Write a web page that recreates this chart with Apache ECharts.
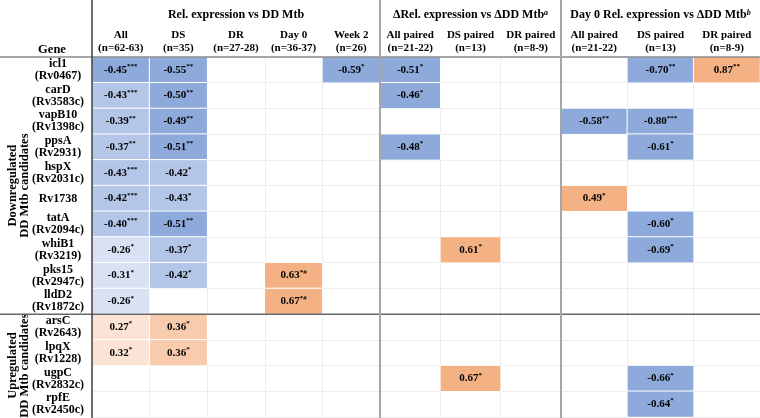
<!DOCTYPE html>
<html><head><meta charset="utf-8">
<script src="https://cdn.jsdelivr.net/npm/echarts@6/dist/echarts.min.js"></script>
<style>html,body{margin:0;padding:0;background:#fff}#c{width:760px;height:418px}</style>
</head><body><div id="c"></div>
<script>
const genes = ['icl1','carD','vapB10','ppsA','hspX','Rv1738','tatA','whiB1','pks15','lldD2','arsC','lpqX','ugpC','rpfE'];
const geneIds = ['Rv0467','Rv3583c','Rv1398c','Rv2931','Rv2031c','','Rv2094c','Rv3219','Rv2947c','Rv1872c','Rv2643','Rv1228','Rv2832c','Rv2450c'];
const groupNames = ['Downregulated\nDD Mtb candidates','Upregulated\nDD Mtb candidates'];
const groupSizes = [10, 4];

const relTitle = 'Rel. expression vs DD Mtb';
const relCols = ['All\n(n=62-63)','DS\n(n=35)','DR\n(n=27-28)','Day 0\n(n=36-37)','Week 2\n(n=26)'];
const relValues = [
  [-0.45,-0.55,null,null,-0.59],
  [-0.43,-0.50,null,null,null],
  [-0.39,-0.49,null,null,null],
  [-0.37,-0.51,null,null,null],
  [-0.43,-0.42,null,null,null],
  [-0.42,-0.43,null,null,null],
  [-0.40,-0.51,null,null,null],
  [-0.26,-0.37,null,null,null],
  [-0.31,-0.42,null,0.63,null],
  [-0.26,null,null,0.67,null],
  [0.27,0.36,null,null,null],
  [0.32,0.36,null,null,null],
  [null,null,null,null,null],
  [null,null,null,null,null]
];
const relSig = [
  ['***','**','','','*'],
  ['***','**','','',''],
  ['**','**','','',''],
  ['**','**','','',''],
  ['***','*','','',''],
  ['***','*','','',''],
  ['***','**','','',''],
  ['*','*','','',''],
  ['*','*','','*#',''],
  ['*','','','*#',''],
  ['*','*','','',''],
  ['*','*','','',''],
  ['','','','',''],
  ['','','','','']
];

const deltaTitle = 'ΔRel. expression vs ΔDD Mtb';
const deltaNote = 'a';
const deltaCols = ['All paired\n(n=21-22)','DS paired\n(n=13)','DR paired\n(n=8-9)'];
const deltaValues = [
  [-0.51,null,null],
  [-0.46,null,null],
  [null,null,null],
  [-0.48,null,null],
  [null,null,null],
  [null,null,null],
  [null,null,null],
  [null,0.61,null],
  [null,null,null],
  [null,null,null],
  [null,null,null],
  [null,null,null],
  [null,0.67,null],
  [null,null,null]
];
const deltaSig = [
  ['*','',''],['*','',''],['','',''],['*','',''],['','',''],['','',''],['','',''],
  ['','*',''],['','',''],['','',''],['','',''],['','',''],['','*',''],['','','']
];

const day0Title = 'Day 0 Rel. expression vs ΔDD Mtb';
const day0Note = 'b';
const day0Cols = ['All paired\n(n=21-22)','DS paired\n(n=13)','DR paired\n(n=8-9)'];
const day0Values = [
  [null,-0.70,0.87],
  [null,null,null],
  [-0.58,-0.80,null],
  [null,-0.61,null],
  [null,null,null],
  [0.49,null,null],
  [null,-0.60,null],
  [null,-0.69,null],
  [null,null,null],
  [null,null,null],
  [null,null,null],
  [null,null,null],
  [null,-0.66,null],
  [null,-0.64,null]
];
const day0Sig = [
  ['','**','**'],['','',''],['**','***',''],['','*',''],['','',''],['*','',''],['','*',''],
  ['','*',''],['','',''],['','',''],['','',''],['','',''],['','*',''],['','*','']
];

const FONT = '"Liberation Serif", "Times New Roman", serif';
const chart = echarts.init(document.getElementById('c'), null, {renderer:'canvas'});

function toData(vals){
  const out = [];
  vals.forEach((row, r) => row.forEach((v, c) => { if (v !== null) out.push([c, r, v]); }));
  return out;
}
const geneLabels = genes.map((g, i) => geneIds[i] ? g + '\n(' + geneIds[i] + ')' : g);
const sigs = [relSig, deltaSig, day0Sig];

const grids = [
  {left: 92, top: 57, width: 288, height: 360},
  {left: 380, top: 57, width: 181, height: 360},
  {left: 561, top: 57, width: 199, height: 360}
];
const cols = [relCols, deltaCols, day0Cols];
const titles = [relTitle, deltaTitle + '{sup|' + deltaNote + '}', day0Title + '{sup|' + day0Note + '}'];
const valueSets = [relValues, deltaValues, day0Values];

const splitStyle = {show: true, lineStyle: {color: '#ededed', width: 1}};

const option = {
  backgroundColor: '#fff',
  animation: false,
  grid: grids,
  xAxis: cols.map((c, i) => ({
    type: 'category', gridIndex: i, position: 'top', data: c,
    axisLine: {show: false}, axisTick: {show: false},
    splitLine: splitStyle,
    axisLabel: {interval: 0, margin: 2, fontFamily: FONT, fontWeight: 'bold', fontSize: 11, lineHeight: 13, color: '#000'},
    name: titles[i], nameLocation: 'middle', nameGap: 36,
    nameTextStyle: {fontFamily: FONT, fontWeight: 'bold', fontSize: 12, color: '#000',
      rich: {sup: {fontFamily: FONT, fontStyle: 'italic', fontWeight: 'bold', fontSize: 8, verticalAlign: 'top', lineHeight: 8, color: '#000'}}}
  })),
  yAxis: grids.map((g, i) => ({
    type: 'category', gridIndex: i, inverse: true, data: geneLabels,
    axisLine: {show: false}, axisTick: {show: false},
    splitLine: splitStyle,
    axisLabel: {show: i === 0, interval: 0, margin: 34, align: 'center', fontFamily: FONT, fontWeight: 'bold', fontSize: 12, lineHeight: 12, color: '#000'}
  })),
  visualMap: {
    type: 'piecewise', show: false, seriesIndex: [0, 1, 2], dimension: 2,
    pieces: [
      {lt: -0.445, color: '#8eaadb'},
      {gte: -0.445, lt: -0.35, color: '#b4c6e7'},
      {gte: -0.35, lt: 0, color: '#d9e2f3'},
      {gt: 0, lt: 0.34, color: '#fbe4d5'},
      {gte: 0.34, lt: 0.45, color: '#f8cbad'},
      {gte: 0.45, color: '#f4b183'}
    ]
  },
  series: valueSets.map((vals, i) => ({
    type: 'heatmap', xAxisIndex: i, yAxisIndex: i, data: toData(vals),
    itemStyle: {borderColor: '#ffffff', borderWidth: 1},
    emphasis: {disabled: true},
    label: {
      show: true,
      formatter: p => {
        const s = sigs[i][p.value[1]][p.value[0]];
        return '{v|' + p.value[2].toFixed(2) + '}' + (s ? '{s|' + s + '}' : '');
      },
      rich: {
        v: {fontFamily: FONT, fontWeight: 'bold', fontSize: 11, lineHeight: 14, color: '#000'},
        s: {fontFamily: FONT, fontWeight: 'bold', fontSize: 7, lineHeight: 8, verticalAlign: 'top', color: '#000'}
      }
    }
  }))
};
chart.setOption(option);

// structural lines & side labels, positioned from the axes
const yTop = chart.convertToPixel({yAxisIndex: 0}, 0);
const y1 = chart.convertToPixel({yAxisIndex: 0}, 1);
const band = y1 - yTop;
const gridTop = yTop - band / 2;
const sepY = chart.convertToPixel({yAxisIndex: 0}, groupSizes[0]) - band / 2;
const gridBottom = chart.convertToPixel({yAxisIndex: 0}, genes.length - 1) + band / 2;
function leftEdge(ax){
  const a = chart.convertToPixel({xAxisIndex: ax}, 0);
  const b = chart.convertToPixel({xAxisIndex: ax}, 1);
  return a - (b - a) / 2;
}
const x0 = leftEdge(0), x1 = leftEdge(1), x2 = leftEdge(2);

const groupCenters = [(gridTop + sepY) / 2, (sepY + gridBottom) / 2];
chart.setOption({
  graphic: [
    {type: 'line', shape: {x1: 0, y1: gridTop, x2: 760, y2: gridTop}, style: {stroke: '#8a8a8a', lineWidth: 1.5}, z: 100},
    {type: 'line', shape: {x1: 0, y1: sepY, x2: 760, y2: sepY}, style: {stroke: '#666', lineWidth: 1.5}, z: 100},
    {type: 'line', shape: {x1: x0, y1: 0, x2: x0, y2: 418}, style: {stroke: '#404040', lineWidth: 1.5}, z: 100},
    {type: 'line', shape: {x1: x1, y1: 0, x2: x1, y2: 418}, style: {stroke: '#a6a6a6', lineWidth: 2}, z: 100},
    {type: 'line', shape: {x1: x2, y1: 0, x2: x2, y2: 418}, style: {stroke: '#a6a6a6', lineWidth: 2}, z: 100},
    {type: 'text', x: 52, y: gridTop - 7, style: {text: 'Gene', font: 'bold 12.5px ' + FONT, fill: '#000', textAlign: 'center', textVerticalAlign: 'middle'}},
    {type: 'text', x: 19, y: groupCenters[0], rotation: Math.PI / 2, style: {text: groupNames[0], font: 'bold 12.5px ' + FONT, lineHeight: 12.5, fill: '#000', textAlign: 'center', textVerticalAlign: 'middle'}},
    {type: 'text', x: 19, y: groupCenters[1], rotation: Math.PI / 2, style: {text: groupNames[1], font: 'bold 12.5px ' + FONT, lineHeight: 12.5, fill: '#000', textAlign: 'center', textVerticalAlign: 'middle'}}
  ]
});
</script>
</body></html>
